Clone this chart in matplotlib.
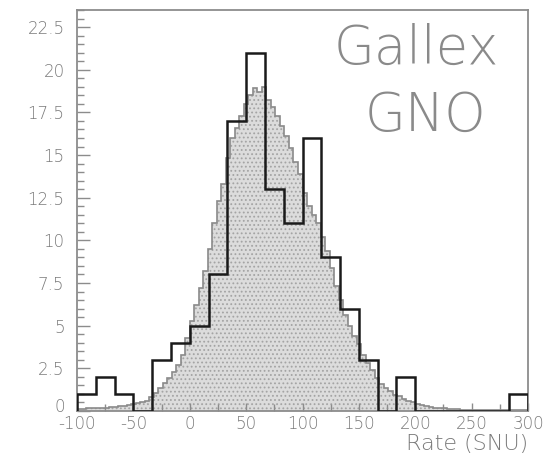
import numpy as np
import matplotlib
matplotlib.use("Agg")
import matplotlib.pyplot as plt
from matplotlib.ticker import MultipleLocator, FixedLocator
from matplotlib.transforms import ScaledTranslation

# ---- data ----
# Measured (black) histogram: 24 bins from -100 to 300
data_edges = np.linspace(-100, 300, 25)
data_counts = [1, 2, 1, 0, 3, 4, 5, 8, 17, 21, 13, 11,
               16, 9, 6, 3, 0, 2, 0, 0, 0, 0, 0, 1]

# Simulated (grey) distribution: 100 bins of width 4 from -100 to 300
sim_edges = np.linspace(-100, 300, 101)
sim_values = [0.10, 0.10, 0.15, 0.15, 0.20, 0.20, 0.20, 0.25, 0.25, 0.30,
              0.30, 0.35, 0.40, 0.45, 0.50, 0.60, 0.80, 1.05, 1.35, 1.65,
              1.95, 2.30, 2.70, 3.30, 4.30, 5.30, 6.20, 7.20, 8.20, 9.50,
              11.0, 12.3, 13.3, 14.8, 16.0, 16.6, 17.3, 18.0, 18.5, 18.9,
              18.7, 19.0, 18.2, 17.8, 17.3, 16.7, 16.1, 15.4, 14.6, 13.9,
              12.8, 12.0, 11.5, 11.0, 10.2, 9.40, 8.40, 7.30, 6.50, 5.60,
              5.00, 4.40, 3.90, 3.30, 2.80, 2.40, 1.95, 1.60, 1.35, 1.15,
              0.95, 0.85, 0.70, 0.60, 0.50, 0.42, 0.35, 0.30, 0.25, 0.20,
              0.17, 0.15, 0.12, 0.10, 0.10, 0.08, 0.07, 0.06, 0.06, 0.05,
              0.05, 0.05, 0.04, 0.04, 0.04, 0.03, 0.03, 0.03, 0.03, 0.03]

x_ticks = [-100, -50, 0, 50, 100, 150, 200, 250, 300]
y_ticks = [0, 2.5, 5, 7.5, 10, 12.5, 15, 17.5, 20, 22.5]
y_tick_labels = ["0", "2.5", "5", "7.5", "10", "12.5", "15", "17.5", "20", "22.5"]
x_label = "Rate (SNU)"
labels = ["Gallex", "GNO"]

# ---- figure ----
plt.rcParams['hatch.linewidth'] = 0.8
fig = plt.figure(figsize=(5.56, 4.53), dpi=100)
ax = fig.add_axes([77/556, 42/453, 451/556, 401/453])

grey = '#8c8c8c'
ax.stairs(sim_values, sim_edges, fill=True, facecolor='#dcdcdc',
          edgecolor='#a4a4a4', hatch='....', linewidth=0, zorder=1)
ax.stairs(sim_values, sim_edges, fill=False, edgecolor='#8a8a8a',
          linewidth=1.2, zorder=2)
ax.stairs(data_counts, data_edges, fill=False, edgecolor='#1a1a1a',
          linewidth=1.8, zorder=3)

ax.set_xlim(-100, 300)
ax.set_ylim(0, 23.5)

ax.xaxis.set_major_locator(FixedLocator(x_ticks))
ax.xaxis.set_minor_locator(MultipleLocator(25))
ax.yaxis.set_major_locator(FixedLocator(y_ticks))
ax.yaxis.set_minor_locator(MultipleLocator(0.5))
ax.set_yticklabels(y_tick_labels)
ax.set_xticklabels([str(v) for v in x_ticks])

for lab in ax.get_xticklabels() + ax.get_yticklabels():
    lab.set_fontfamily('DejaVu Sans')
    lab.set_fontsize(12)
    lab.set_color('#7a7a7a')
    lab.set_fontweight('light')

ax.tick_params(axis='both', which='both', direction='in', color=grey,
               top=False, right=False)
ax.tick_params(axis='y', which='major', length=9, width=1.0, pad=9)
ax.tick_params(axis='y', which='minor', length=5, width=1.0)
ax.tick_params(axis='x', which='major', length=6, width=1.0, pad=3)
ax.tick_params(axis='x', which='minor', length=5, width=1.0)

# lift the "0" y label a few pixels so it just clears the x tick labels
ylab0 = ax.get_yticklabels()[0]
ylab0.set_transform(ylab0.get_transform() + ScaledTranslation(0, 4/72, fig.dpi_scale_trans))

for s in ax.spines.values():
    s.set_color(grey)
    s.set_linewidth(1.3)

ax.text(1.0, -0.058, x_label, transform=ax.transAxes, ha='right', va='top',
        fontsize=16, color='#7a7a7a', fontfamily='DejaVu Sans', fontweight='light')

ax.text(0.753, 0.903, labels[0], transform=ax.transAxes, ha='center', va='center',
        fontsize=38, color='#8a8a8a', fontfamily='DejaVu Sans', fontweight='ultralight')
ax.text(0.772, 0.734, labels[1], transform=ax.transAxes, ha='center', va='center',
        fontsize=38, color='#8a8a8a', fontfamily='DejaVu Sans', fontweight='ultralight')

fig.savefig('out.png', dpi=100)
